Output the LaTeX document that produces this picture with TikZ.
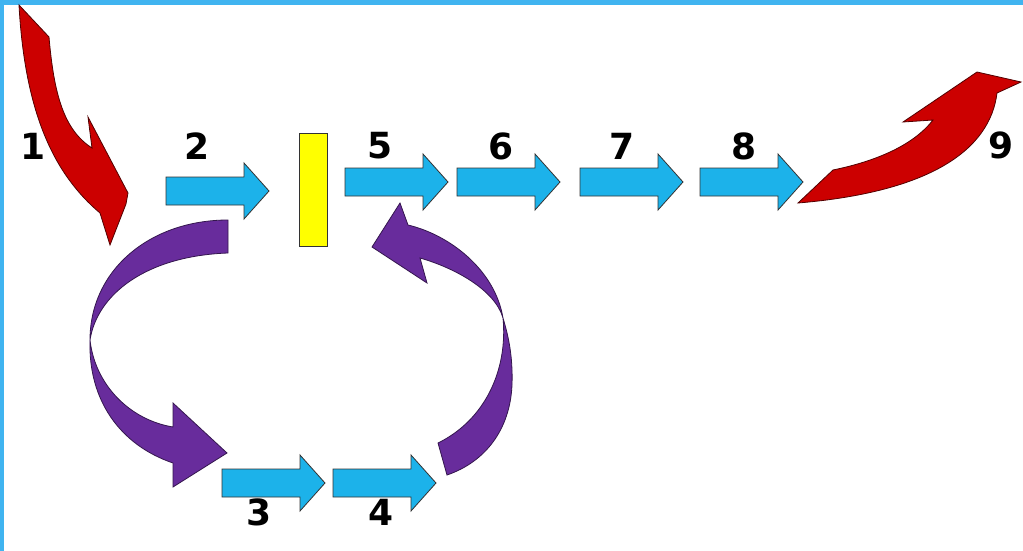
\documentclass[tikz,border=0pt]{standalone}
\usepackage{fontspec}
\setmainfont{DejaVu Sans}

\definecolor{frameblue}{RGB}{64,180,240}
\definecolor{stageblue}{RGB}{28,178,234}
\definecolor{loopviolet}{RGB}{104,44,156}
\definecolor{flowred}{RGB}{204,0,0}
\definecolor{barcolor}{RGB}{255,255,0}

% straight block arrow: left end x, centre line y
\newcommand{\stagearrow}[2]{%
  \draw[stage] (#1,#2-14) -- ++(78,0) -- ++(0,-14) -- ++(25,28)
    -- ++(-25,28) -- ++(0,-14) -- ++(-78,0) -- cycle;}

\begin{document}
\begin{tikzpicture}[
      x=1pt, y=-1pt,
      stage/.style={fill=stageblue, draw=black!80, line width=0.8pt, line join=miter},
      inflow/.style={fill=flowred, draw=black!60!flowred, line width=0.8pt},
      cycle arrow/.style={fill=loopviolet, draw=black!50!loopviolet, line width=0.8pt},
      num/.style={font=\fontsize{36}{36}\selectfont\bfseries, inner sep=0pt}
    ]
    \useasboundingbox (0,0) rectangle (1023,551);
    \fill[white] (0,0) rectangle (1023,551);

    % frame
    \fill[frameblue] (0,0) rectangle (1023,5);
    \fill[frameblue] (0,0) rectangle (4,551);

    % red arrow in
    \draw[inflow] (19,5) -- (49,37) .. controls (54,95) and (64,130) .. (92,148)
      -- (88,117) -- (128,193) -- (126,204) -- (110,245) -- (100,213)
      .. controls (55,175) and (25,115) .. (19,5) -- cycle;

    % red arrow out
    \draw[inflow] (798,203) -- (833,170) .. controls (872,162) and (912,147) .. (933,120)
      -- (903,122) -- (977,72) -- (1021,82) -- (997,93)
      .. controls (990,150) and (930,192) .. (798,203) -- cycle;

    % yellow bar
    \draw[fill=barcolor, draw=black!80, line width=0.8pt] (299,133) rectangle (327,246);

    % straight arrows
    \stagearrow{166}{191}
    \stagearrow{345}{182}
    \stagearrow{457}{182}
    \stagearrow{580}{182}
    \stagearrow{700}{182}
    \stagearrow{222}{483}
    \stagearrow{333}{483}

    % left violet arrow
    \draw[cycle arrow] (228,220) .. controls (150,220) and (90,270) .. (90,340)
      .. controls (95,385) and (130,420) .. (173,427)
      -- (173,403) -- (227,453) -- (173,487) -- (173,463)
      .. controls (120,445) and (88,400) .. (90,340)
      .. controls (97,295) and (145,256) .. (228,253) -- cycle;

    % right violet arrow
    \draw[cycle arrow] (438,443) -- (447,475)
      .. controls (485,462) and (510,430) .. (512,385)
      .. controls (513,355) and (508,335) .. (503,318)
      .. controls (495,270) and (450,235) .. (408,225)
      -- (400,203) -- (372,247) -- (427,283) -- (420,258)
      .. controls (455,268) and (495,290) .. (503,318)
      .. controls (508,370) and (485,420) .. (438,443) -- cycle;

    % numbers
    \node[num] (n1) at (33,146) {1};
    \node[num] (n2) at (197,146) {2};
    \node[num] (n3) at (259,512) {3};
    \node[num] (n4) at (381,512) {4};
    \node[num] (n5) at (380,146) {5};
    \node[num] (n6) at (501,146) {6};
    \node[num] (n7) at (622,146) {7};
    \node[num] (n8) at (744,146) {8};
    \node[num] (n9) at (1001,145) {9};

    \end{tikzpicture}
\end{document}
